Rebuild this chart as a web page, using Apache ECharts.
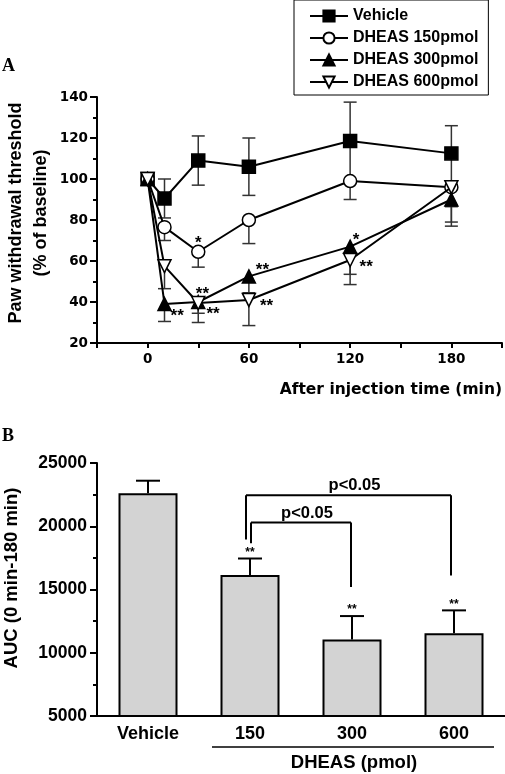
<!DOCTYPE html>
<html><head><meta charset="utf-8">
<script src="https://cdn.jsdelivr.net/npm/echarts@6/dist/echarts.min.js"></script>
<style>html,body{margin:0;padding:0;background:#fff}#c{width:505px;height:774px}</style>
</head><body><div id="c"></div>
<script>
// ---- Panel A data ----
const times = [0, 10, 30, 60, 120, 180];
const seriesNames = ['Vehicle', 'DHEAS 150pmol', 'DHEAS 300pmol', 'DHEAS 600pmol'];
const vehicle = [100, 90.5, 109, 106, 118.5, 112.5];
const vehicleErr = [0, 9.5, 12, 14, 19, 13.5];
const d150 = [100, 76.5, 64.5, 80, 99, 96];
const d150Err = [0, 6.5, 7.5, 11.5, 9, 9.5];
const d300 = [100, 39, 40, 52.5, 67, 90];
const d300Err = [0, 8.5, 10, 8, 13.5, 11];
const d600 = [100, 57.5, 39.5, 41, 60.5, 96];
const d600Err = [0, 11, 5, 12.5, 12, 19];
// error bars drawn in both directions (true) or downward only (false)
const errBothWays = [true, false, false, false];
// significance marks [time, value, text]
const sigA = [
  [30, 70.5, '*'], [68, 57.2, '**'], [123.5, 72.2, '*'], [129.5, 58.9, '**'],
  [17.5, 34.8, '**'], [32.5, 45.5, '**'], [38.8, 36, '**'], [70.5, 39.8, '**']
];
const xLabelsA = [0, 60, 120, 180];

// ---- Panel B data ----
const aucCats = ['Vehicle', '150', '300', '600'];
const aucMean = [22600, 16150, 11050, 11550];
const aucErr = [1000, 1300, 1850, 1800];
const aucSig = ['', '**', '**', '**'];
const bracketFrom = [1, 1];
const bracketTo = [2, 3];
const bracketLevel = [20300, 22450];
const bracketLeftEnd = [18650, 18950];
const bracketRightEnd = [15200, 16100];
const bracketText = ['p<0.05', 'p<0.05'];

const TOPF = '"DejaVu Sans"';
const ARIAL = '"Liberation Sans", Arial';

const means = [vehicle, d150, d300, d600];
const errs = [vehicleErr, d150Err, d300Err, d600Err];
const symbols = ['rect', 'circle', 'triangle', 'path://M0,0 L10,0 L5,9 Z'];
const fills = ['#000', '#fff', '#000', '#fff'];

const lineSeries = seriesNames.map((name, s) => ({
  name, type: 'line', xAxisIndex: 0, yAxisIndex: 0,
  data: times.map((t, i) => [t, means[s][i]]),
  symbol: symbols[s], symbolSize: 13, showAllSymbol: true,
  lineStyle: { color: '#000', width: 2 },
  itemStyle: { color: fills[s], borderColor: '#000', borderWidth: 1.5 },
  z: 5 + s
}));

const errData = [];
means.forEach((m, s) => times.forEach((t, i) => { if (errs[s][i] > 0) errData.push([t, m[i], errs[s][i], s]); }));

const errSeriesA = {
  type: 'custom', xAxisIndex: 0, yAxisIndex: 0, z: 3, silent: true,
  data: errData,
  renderItem: (p, api) => {
    const t = api.value(0), m = api.value(1), e = api.value(2), s = api.value(3);
    const both = errBothWays[s];
    const top = api.coord([t, both ? m + e : m]), bot = api.coord([t, m - e]);
    const st = { stroke: '#333', lineWidth: 1.5 };
    const cw = 6.5;
    const ch = [
      { type: 'line', shape: { x1: top[0], y1: top[1], x2: bot[0], y2: bot[1] }, style: st },
      { type: 'line', shape: { x1: bot[0] - cw, y1: bot[1], x2: bot[0] + cw, y2: bot[1] }, style: st }
    ];
    if (both) ch.push({ type: 'line', shape: { x1: top[0] - cw, y1: top[1], x2: top[0] + cw, y2: top[1] }, style: st });
    return { type: 'group', children: ch };
  }
};

const sigSeriesA = {
  type: 'custom', xAxisIndex: 0, yAxisIndex: 0, z: 10, silent: true,
  data: sigA.map(d => [d[0], d[1]]),
  renderItem: (p, api) => {
    const c = api.coord([api.value(0), api.value(1)]);
    return { type: 'text', style: { text: sigA[p.dataIndex][2], x: c[0], y: c[1] + 4,
      align: 'center', verticalAlign: 'middle', font: 'bold 17px ' + ARIAL, fill: '#000' } };
  }
};

const barSeries = {
  type: 'bar', xAxisIndex: 1, yAxisIndex: 1, data: aucMean, barWidth: 59,
  itemStyle: { color: '#d3d3d3', borderColor: '#000', borderWidth: 2 }, z: 2
};

const errSeriesB = {
  type: 'custom', xAxisIndex: 1, yAxisIndex: 1, z: 3, silent: true,
  data: aucMean.map((v, i) => [i, v, aucErr[i]]),
  renderItem: (p, api) => {
    const i = api.value(0), m = api.value(1), e = api.value(2);
    const base = api.coord([i, m]), top = api.coord([i, m + e]);
    const st = { stroke: '#000', lineWidth: 2 };
    const ch = [
      { type: 'line', shape: { x1: base[0], y1: base[1], x2: top[0], y2: top[1] }, style: st },
      { type: 'line', shape: { x1: top[0] - 12, y1: top[1], x2: top[0] + 12, y2: top[1] }, style: st }
    ];
    if (aucSig[p.dataIndex]) ch.push({ type: 'text', style: { text: aucSig[p.dataIndex], x: top[0], y: top[1] - 6,
      align: 'center', verticalAlign: 'middle', font: 'bold 12px ' + ARIAL, fill: '#000' } });
    return { type: 'group', children: ch };
  }
};

const bracketSeries = {
  type: 'custom', xAxisIndex: 1, yAxisIndex: 1, z: 4, silent: true,
  data: bracketFrom.map((f, i) => [f, bracketTo[i], bracketLevel[i], bracketLeftEnd[i], bracketRightEnd[i]]),
  renderItem: (p, api) => {
    const offL = p.dataIndex === 0 ? 1 : -4, offR = p.dataIndex === 0 ? -1 : -3;
    const a = api.coord([api.value(0), api.value(2)]);
    const b = api.coord([api.value(1), api.value(2)]);
    const aEnd = api.coord([api.value(0), api.value(3)]);
    const bEnd = api.coord([api.value(1), api.value(4)]);
    const xl = a[0] + offL, xr = b[0] + offR, y = a[1];
    const st = { stroke: '#000', lineWidth: 2 };
    return { type: 'group', children: [
      { type: 'line', shape: { x1: xl, y1: aEnd[1], x2: xl, y2: y }, style: st },
      { type: 'line', shape: { x1: xl, y1: y, x2: xr, y2: y }, style: st },
      { type: 'line', shape: { x1: xr, y1: y, x2: xr, y2: bEnd[1] }, style: st },
      { type: 'text', style: { text: bracketText[p.dataIndex], x: (xl + xr) / 2 + 6, y: y - 1,
        align: 'center', verticalAlign: 'bottom', font: 'bold 16.5px ' + ARIAL, fill: '#000' } }
    ]};
  }
};

const axLine = { lineStyle: { color: '#000', width: 2 } };

const option = {
  animation: false,
  backgroundColor: '#fff',
  legend: {
    left: 294, top: 0, orient: 'vertical',
    data: seriesNames,
    itemWidth: 38, itemHeight: 14, itemGap: 6,
    padding: [8, 10, 5, 15],
    borderColor: '#000', borderWidth: 1,
    textStyle: { fontFamily: ARIAL, fontWeight: 'bold', fontSize: 16, lineHeight: 16, color: '#000' }
  },
  grid: [
    { left: 97, top: 97, width: 405, height: 246 },
    { left: 97, top: 463, width: 408, height: 253 }
  ],
  xAxis: [
    { type: 'value', gridIndex: 0, min: -30, max: 210, interval: 30,
      axisLine: { onZero: false, ...axLine },
      axisTick: { length: 5, lineStyle: { color: '#000', width: 2 } },
      splitLine: { show: false },
      axisLabel: { margin: 9, color: '#000', fontFamily: TOPF, fontWeight: 'bold', fontSize: 13.5,
        formatter: v => xLabelsA.includes(v) ? String(v) : '' },
      name: 'After injection time (min)', nameLocation: 'end', nameGap: 0,
      nameTextStyle: { color: '#000', fontFamily: TOPF, fontWeight: 'bold', fontSize: 15.5,
        align: 'right', verticalAlign: 'top', padding: [39, 0, 0, 0] }
    },
    { type: 'category', gridIndex: 1, data: aucCats,
      axisLine: { onZero: false, ...axLine },
      axisTick: { show: false },
      axisLabel: { margin: 9, color: '#000', fontFamily: ARIAL, fontWeight: 'bold', fontSize: 18 }
    }
  ],
  yAxis: [
    { type: 'value', gridIndex: 0, min: 20, max: 140, interval: 20,
      axisLine: { show: true, onZero: false, ...axLine },
      axisTick: { show: true, length: 7, lineStyle: { color: '#000', width: 2 } },
      minorTick: { show: true, splitNumber: 2, length: 4, lineStyle: { color: '#000', width: 2 } },
      splitLine: { show: false },
      axisLabel: { margin: 9, color: '#000', fontFamily: TOPF, fontWeight: 'bold', fontSize: 13.5 }
    },
    { type: 'value', gridIndex: 1, min: 5000, max: 25000, interval: 5000,
      axisLine: { show: true, onZero: false, ...axLine },
      axisTick: { show: true, length: 7, lineStyle: { color: '#000', width: 2 } },
      minorTick: { show: true, splitNumber: 2, length: 4, lineStyle: { color: '#000', width: 2 } },
      splitLine: { show: false },
      axisLabel: { margin: 10, color: '#000', fontFamily: ARIAL, fontWeight: 'bold', fontSize: 17.5,
        formatter: v => String(v) }
    }
  ],
  graphic: [
    { type: 'text', x: 2, y: 66, style: { text: 'A', font: 'bold 18px "Liberation Serif"', fill: '#000', verticalAlign: 'middle', textVerticalAlign: 'middle' } },
    { type: 'text', x: 2, y: 436, style: { text: 'B', font: 'bold 18px "Liberation Serif"', fill: '#000', verticalAlign: 'middle', textVerticalAlign: 'middle' } },
    { type: 'text', x: 16, y: 213, rotation: Math.PI / 2, style: { text: 'Paw withdrawal threshold', font: 'bold 18px "Liberation Sans"', fill: '#000', align: 'center', verticalAlign: 'middle', textAlign: 'center', textVerticalAlign: 'middle' } },
    { type: 'text', x: 41, y: 213, rotation: Math.PI / 2, style: { text: '(% of baseline)', font: 'bold 18px "Liberation Sans"', fill: '#000', align: 'center', verticalAlign: 'middle', textAlign: 'center', textVerticalAlign: 'middle' } },
    { type: 'text', x: 12, y: 578, rotation: Math.PI / 2, style: { text: 'AUC (0 min-180 min)', font: 'bold 18.5px "Liberation Sans"', fill: '#000', align: 'center', verticalAlign: 'middle', textAlign: 'center', textVerticalAlign: 'middle' } },
    { type: 'line', shape: { x1: 212, y1: 747, x2: 494, y2: 747 }, style: { stroke: '#000', lineWidth: 1.5 } },
    { type: 'text', x: 354, y: 763, style: { text: 'DHEAS (pmol)', font: 'bold 18.5px "Liberation Sans"', fill: '#000', align: 'center', verticalAlign: 'middle', textAlign: 'center', textVerticalAlign: 'middle' } }
  ],
  series: [errSeriesA, ...lineSeries, sigSeriesA, barSeries, errSeriesB, bracketSeries]
};

echarts.init(document.getElementById('c'), null, { renderer: 'canvas' }).setOption(option);
</script>
</body></html>
